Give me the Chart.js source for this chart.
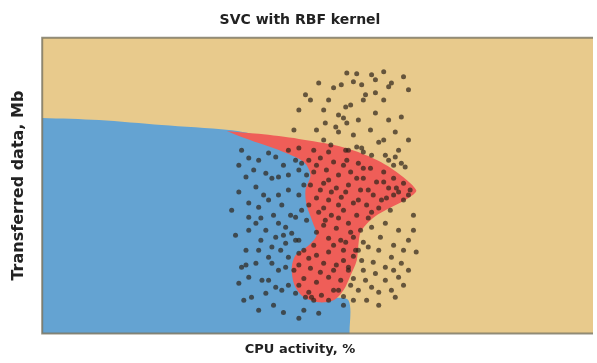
<!DOCTYPE html>
<html>
<head>
<meta charset="utf-8">
<script src="https://cdn.jsdelivr.net/npm/chart.js@4.4.0/dist/chart.umd.min.js"></script>
<style>
  html, body { margin: 0; padding: 0; background: #fff; }
</style>
</head>
<body>
<canvas id="svcChart" width="597" height="363"></canvas>
<script>
// observations: CPU activity (%) vs transferred data (Mb)
const cpuActivity = [
  // upper cluster, above the boundary
  55.3, 57.1, 59.8, 60.5, 65.6, 63.4, 62.9, 50.2, 54.3, 56.5, 58.0, 58.7, 60.5, 47.8, 48.7, 52.0,
  55.1, 56.0, 53.8, 54.7, 55.3, 60.5, 62.9, 65.2, 51.4, 53.3, 49.8, 53.8, 64.1, 61.1, 62.0, 57.1,
  58.0, 55.1, 52.0, 59.8, 62.3, 64.1, 62.9, 65.9, 65.2,
  46.6, 51.1, 58.3, 62.0, 66.5, 52.9, 57.4, 59.6, 56.5, 51.1, 66.5, 64.7, 45.7, 62.0,
  // left part (blue zone)
  36.2, 37.5, 39.3, 41.1, 42.4, 40.6, 41.7, 42.9, 37.0, 38.8, 46.0, 47.1, 46.6,
  37.5, 39.3, 37.5, 38.8, 40.6, 42.9, 44.2, 45.3, 42.4, 37.0, 39.3, 41.7, 44.2, 46.0, 36.2, 38.8,
  41.7, 42.9, 44.2, 37.5, 39.9, 42.4, 38.0, 40.6, 43.5, 46.0, 47.8, 48.9, 41.1, 44.7, 46.6, 46.0,
  47.1, 35.7, 35.1, 35.7, 39.3, 43.8, 46.6, 41.1, 43.5, 44.7, 42.9,
  35.7, 38.4, 44.7, 43.8, 40.2, 37.5, 39.7, 43.3, 45.7, 41.1, 44.7, 36.6, 42.0, 47.5, 50.2, 45.1,
  42.0, 39.7, 46.6, 43.8, 37.0, 34.4,
  // right of the red zone
  59.8, 62.3, 64.7, 66.5, 59.2, 61.1, 63.4, 65.2, 66.5, 62.3, 60.5, 58.7, 59.8, 63.4, 62.3, 64.7,
  58.0, 56.9, 55.6, 57.4, 64.1, 67.4, 67.9, 56.5, 61.1, 54.7,
  61.4, 63.8, 65.6, 60.1, 63.8, 61.1, 65.6, 58.9, 67.4, 58.3,
  // red zone
  48.4, 50.5, 52.9, 55.3, 57.4, 59.6, 62.0, 63.8, 65.6, 66.8, 49.3, 51.6, 53.8, 56.0, 58.3, 60.7,
  62.9, 64.7, 48.7, 51.1, 53.4, 55.6, 57.8, 60.1, 62.5, 65.6, 49.8, 52.0, 54.3, 56.5, 58.9, 61.1,
  63.2, 50.2, 52.5, 54.7, 57.1, 59.2, 51.1, 53.4, 55.6, 57.8, 52.0, 54.2, 56.5, 58.3, 47.5, 49.8,
  52.0, 54.7, 56.5, 46.6, 48.7, 51.1, 53.4, 55.6, 47.5, 49.8, 52.0, 54.2, 56.0, 48.4, 50.7, 52.9,
  54.7, 46.6, 49.3, 51.1, 48.4, 48.0, 44.7, 46.6, 49.3, 52.4, 63.8,
  47.5, 49.8, 54.7, 57.1, 59.2, 61.6, 64.3, 66.5, 52.5, 50.5, 55.1, 57.4, 59.8, 53.8, 51.4, 53.8,
  56.0, 49.8, 52.9, 55.1, 57.4, 48.4, 50.5, 52.9, 54.7, 46.6, 49.3, 52.0, 53.8, 56.5, 48.0, 52.0,
  62.0, 63.8, 58.3, 55.6, 58.3
];
const transferredMb = [
  88.1, 87.8, 87.5, 85.8, 86.8, 84.7, 83.4, 84.7, 84.1, 85.1, 84.1, 80.7, 81.4, 80.7, 79.0, 79.0,
  76.6, 77.3, 73.9, 72.9, 71.2, 74.6, 72.2, 73.2, 71.2, 69.8, 68.8, 68.1, 68.1, 64.7, 65.4, 63.1,
  62.7, 62.0, 61.4, 60.3, 60.3, 59.7, 58.6, 56.3, 57.6,
  75.6, 75.6, 79.0, 79.0, 82.4, 83.1, 72.2, 68.8, 67.1, 65.4, 65.4, 62.0, 68.8, 88.5,
  62.0, 59.3, 58.6, 61.0, 59.7, 54.2, 52.5, 52.9, 52.9, 49.5, 58.6, 57.6, 55.3,
  44.1, 42.7, 39.3, 37.3, 34.9, 37.3, 35.9, 33.9, 32.5, 28.1, 28.1, 29.2, 30.5, 31.5, 22.4, 23.7,
  23.7, 21.4, 22.4, 19.0, 18.0, 15.6, 12.2, 13.6, 14.6, 13.6, 12.2, 12.2, 25.8, 25.8, 27.1, 39.3,
  41.7, 47.8, 33.2, 17.0, 7.8, 7.1, 5.1, 45.1, 43.4, 48.5, 46.8,
  56.9, 55.3, 53.6, 56.9, 46.8, 34.9, 31.5, 28.1, 21.4, 18.0, 16.3, 11.2, 9.5, 7.8, 6.8, 40.0,
  40.0, 39.0, 46.8, 33.2, 23.1, 41.7,
  35.9, 37.3, 34.9, 31.5, 29.2, 28.1, 25.8, 23.7, 21.4, 22.4, 20.3, 18.0, 15.6, 14.6, 18.0, 19.0,
  24.7, 28.1, 22.4, 14.6, 12.2, 40.0, 27.5, 11.2, 9.5, 9.5,
  32.5, 29.8, 28.1, 24.1, 21.4, 13.9, 16.3, 11.2, 34.9, 21.4,
  58.6, 59.3, 58.0, 58.6, 57.6, 55.9, 54.6, 52.5, 50.8, 48.5, 54.6, 55.3, 53.6, 54.6, 52.5, 51.2,
  49.2, 47.8, 50.2, 50.8, 49.2, 50.2, 48.5, 46.8, 45.8, 45.1, 45.8, 45.1, 46.1, 44.1, 43.4, 42.4,
  41.7, 41.0, 40.0, 41.7, 40.0, 39.0, 36.6, 35.6, 37.3, 34.9, 32.2, 31.5, 32.5, 30.8, 28.1, 26.4,
  27.5, 28.1, 26.1, 23.1, 22.0, 23.7, 23.1, 21.4, 18.6, 17.3, 19.0, 18.0, 16.3, 13.9, 12.9, 14.6,
  12.5, 31.5, 29.8, 42.4, 43.4, 38.3, 62.0, 62.7, 62.0, 63.7, 56.9,
  50.2, 56.9, 56.9, 52.5, 48.5, 45.1, 49.2, 46.8, 47.8, 48.5, 47.8, 45.1, 41.0, 43.4, 38.3, 39.0,
  34.2, 34.2, 29.8, 30.8, 28.1, 25.4, 20.7, 21.4, 24.7, 16.3, 11.2, 11.2, 14.6, 18.6, 53.6, 51.9,
  51.2, 46.8, 55.9, 62.0, 61.4
];

// decision regions of the classifier (outline points)
const blueEdgeX = [-5, 0, 10.3, 21.7, 33.9, 38.8, 42.9, 50.2, 52.0, 50.2, 52.0, 55.6, 55.8, 55.8, -5];
const blueEdgeY = [73.0, 72.9, 72.2, 70.5, 68.8, 67.1, 63.4, 55.3, 38.3, 24.7, 12.9, 11.2, 0, -5, -5];

const redEdgeX = [33.5, 39.3, 46.6, 53.8, 59.2, 63.8, 67.9, 66.5, 63.8, 61.0, 59.2, 57.8, 57.4, 57.1,
  56.0, 54.7, 52.9, 50.2, 47.5, 45.8, 45.3, 46.0, 48.4, 49.8, 49.1, 48.0, 47.8, 48.7, 47.5, 43.8,
  39.3, 35.7];
const redEdgeY = [68.5, 67.5, 65.8, 63.4, 60.0, 55.3, 48.5, 45.8, 43.1, 40.3, 37.6, 34.2, 29.8, 24.7,
  19.7, 14.6, 11.2, 10.5, 12.2, 16.3, 22.0, 26.4, 29.8, 33.2, 37.6, 43.4, 48.5, 53.6, 58.0, 61.4,
  64.4, 66.8];

const TAN = '#E8CA8C';
const BLUE = '#64A3D2';
const RED = '#EF5E58';

const toPoints = (xs, ys) => xs.map((x, i) => ({ x: x, y: ys[i] }));

// fundo bege da área do gráfico + moldura
const plotFrame = {
  id: 'plotFrame',
  beforeDraw(chart) {
    const { ctx, chartArea: a } = chart;
    ctx.save();
    ctx.fillStyle = TAN;
    ctx.fillRect(a.left, a.top, a.right - a.left, a.bottom - a.top);
    ctx.restore();
  },
  afterDatasetsDraw(chart) {
    const { ctx, chartArea: a } = chart;
    ctx.save();
    ctx.strokeStyle = 'rgba(120,115,95,0.8)';
    ctx.lineWidth = 2;
    ctx.beginPath();
    ctx.moveTo(a.right, a.top);
    ctx.lineTo(a.left, a.top);
    ctx.lineTo(a.left, a.bottom);
    ctx.lineTo(a.right, a.bottom);
    ctx.stroke();
    ctx.restore();
  }
};

const regionStyle = {
  showLine: true,
  fill: 'shape',
  borderWidth: 0,
  pointRadius: 0,
  pointHoverRadius: 0,
  tension: 0.3
};

new Chart(document.getElementById('svcChart'), {
  type: 'scatter',
  data: {
    datasets: [
      {
        label: 'samples',
        data: toPoints(cpuActivity, transferredMb),
        pointRadius: 2.5,
        pointBorderWidth: 0,
        pointBackgroundColor: 'rgba(45,35,25,0.7)',
        order: 0
      },
      Object.assign({ label: 'class 2', data: toPoints(redEdgeX, redEdgeY),
        backgroundColor: RED, borderColor: RED, order: 1 }, regionStyle),
      Object.assign({ label: 'class 1', data: toPoints(blueEdgeX, blueEdgeY),
        backgroundColor: BLUE, borderColor: BLUE, order: 2 }, regionStyle)
    ]
  },
  options: {
    responsive: false,
    animation: false,
    events: [],
    layout: { padding: { left: 5, right: 2, top: 0, bottom: 0 } },
    scales: {
      x: {
        min: 0, max: 100,
        ticks: { display: false },
        grid: { display: false, drawTicks: false },
        border: { display: false }
      },
      y: {
        min: 0, max: 100,
        ticks: { display: false },
        grid: { display: false, drawTicks: false },
        border: { display: false },
        title: {
          display: true,
          text: 'Transferred data, Mb',
          color: '#222',
          font: { family: 'DejaVu Sans', size: 16, weight: 'bold' },
          padding: { top: 4, bottom: 14 }
        }
      }
    },
    plugins: {
      legend: { display: false },
      tooltip: { enabled: false },
      title: {
        display: true,
        text: 'SVC with RBF kernel',
        color: '#222',
        font: { family: 'DejaVu Sans', size: 14, weight: 'bold' },
        padding: { top: 12, bottom: 9 }
      },
      subtitle: {
        display: true,
        position: 'bottom',
        text: 'CPU activity, %',
        color: '#222',
        font: { family: 'DejaVu Sans', size: 13, weight: 'bold' },
        padding: { top: 8, bottom: 6 }
      }
    }
  },
  plugins: [plotFrame]
});
</script>
</body>
</html>
